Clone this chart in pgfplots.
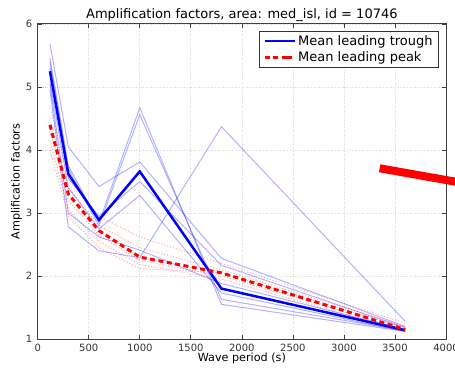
\documentclass[border=0pt]{standalone}
\usepackage{pgfplots}
\pgfplotsset{compat=1.18}
\usepackage{fontspec}
\setmainfont{DejaVu Sans}

\begin{document}
\begin{tikzpicture}
\begin{axis}[
  scale only axis, width=408.3pt, height=315pt,
  xmin=0, xmax=4000, ymin=1, ymax=6,
  xtick={0,500,...,4000}, ytick={1,2,3,4,5,6},
  tick align=inside, tick pos=both,
  major tick length=4pt,
  grid=major, grid style={gray!30, dotted, line width=0.7pt},
  axis line style={line width=1pt, black!75},
  tick style={black!75, line width=0.7pt},
  ticklabel style={font=\fontsize{10}{12}\selectfont, text=black!80},
  xticklabel style={yshift=-1.5pt},
  yticklabel style={xshift=-2pt},
  /pgf/number format/assume math mode=true,
  /pgf/number format/1000 sep={},
  title={Amplification factors, area: med\_isl, id = 10746},
  title style={font=\fontsize{13}{15}\selectfont, yshift=-7pt},
  xlabel={Wave period (s)}, ylabel={Amplification factors},
  label style={font=\fontsize{11.2}{13}\selectfont},
  xlabel style={yshift=5pt},
  ylabel style={yshift=-3pt},
  clip=false,
  legend style={at={(1,1)}, anchor=north east, xshift=-7pt, yshift=-7pt,
    draw=black!80, line width=0.8pt, font=\fontsize{13}{15}\selectfont,
    inner xsep=4pt, inner ysep=2pt, row sep=1pt},
  legend cell align=left,
  legend image code/.code={\draw[#1] (0pt,0pt) -- (22pt,0pt); \path (22pt,0pt) -- (30pt,0pt);},
]
% thin individual troughs
\addplot[blue, opacity=0.3, line width=1pt, forget plot] coordinates {(120,5.69) (300,4.05) (600,3.42) (1000,3.81) (1800,2.28) (3600,1.20)};
\addplot[blue, opacity=0.3, line width=1pt, forget plot] coordinates {(120,5.46) (300,3.75) (600,2.85) (1000,4.67) (1800,1.55) (3600,1.12)};
\addplot[blue, opacity=0.3, line width=1pt, forget plot] coordinates {(120,5.40) (300,3.70) (600,2.80) (1000,4.56) (1800,1.63) (3600,1.13)};
\addplot[blue, opacity=0.3, line width=1pt, forget plot] coordinates {(120,5.30) (300,3.55) (600,2.95) (1000,3.50) (1800,2.17) (3600,1.18)};
\addplot[blue, opacity=0.3, line width=1pt, forget plot] coordinates {(120,5.10) (300,3.40) (600,2.75) (1000,3.28) (1800,1.73) (3600,1.12)};
\addplot[blue, opacity=0.3, line width=1pt, forget plot] coordinates {(120,4.95) (300,2.78) (600,2.40) (1000,2.29) (1800,4.37) (3600,1.28)};
\addplot[blue, opacity=0.3, line width=1pt, forget plot] coordinates {(120,5.05) (300,3.00) (600,2.62) (1000,2.41) (1800,1.88) (3600,1.15)};
% thin individual peaks
\addplot[red, opacity=0.35, line width=1pt, dotted, forget plot] coordinates {(120,4.70) (300,3.55) (600,2.95) (1000,2.62) (1800,2.20) (3600,1.25)};
\addplot[red, opacity=0.35, line width=1pt, dotted, forget plot] coordinates {(120,4.50) (300,3.40) (600,2.80) (1000,2.45) (1800,2.10) (3600,1.20)};
\addplot[red, opacity=0.35, line width=1pt, dotted, forget plot] coordinates {(120,4.30) (300,3.20) (600,2.65) (1000,2.25) (1800,2.00) (3600,1.15)};
\addplot[red, opacity=0.35, line width=1pt, dotted, forget plot] coordinates {(120,4.15) (300,3.05) (600,2.55) (1000,2.18) (1800,1.95) (3600,1.12)};
\addplot[red, opacity=0.35, line width=1pt, dotted, forget plot] coordinates {(120,4.00) (300,2.95) (600,2.45) (1000,2.12) (1800,2.05) (3600,1.18)};
% means
\addplot[blue, line width=2.5pt] coordinates {(120,5.25) (300,3.62) (600,2.89) (1000,3.66) (1800,1.80) (3600,1.14)};
\addlegendentry{Mean leading trough}
\addplot[red, line width=3pt, dash pattern=on 5pt off 3.5pt] coordinates {(120,4.40) (300,3.30) (600,2.72) (1000,2.30) (1800,2.05) (3600,1.15)};
\addlegendentry{Mean leading peak}
% stray red stroke at the right
\addplot[red, line width=8pt, forget plot] coordinates {(3350,3.71) (4200,3.466)};
\end{axis}
\pgfresetboundingbox
\path[use as bounding box] ([xshift=-37.7pt,yshift=-29pt]current axis.south west) rectangle ([xshift=9pt,yshift=24pt]current axis.north east);
\end{tikzpicture}
\end{document}
